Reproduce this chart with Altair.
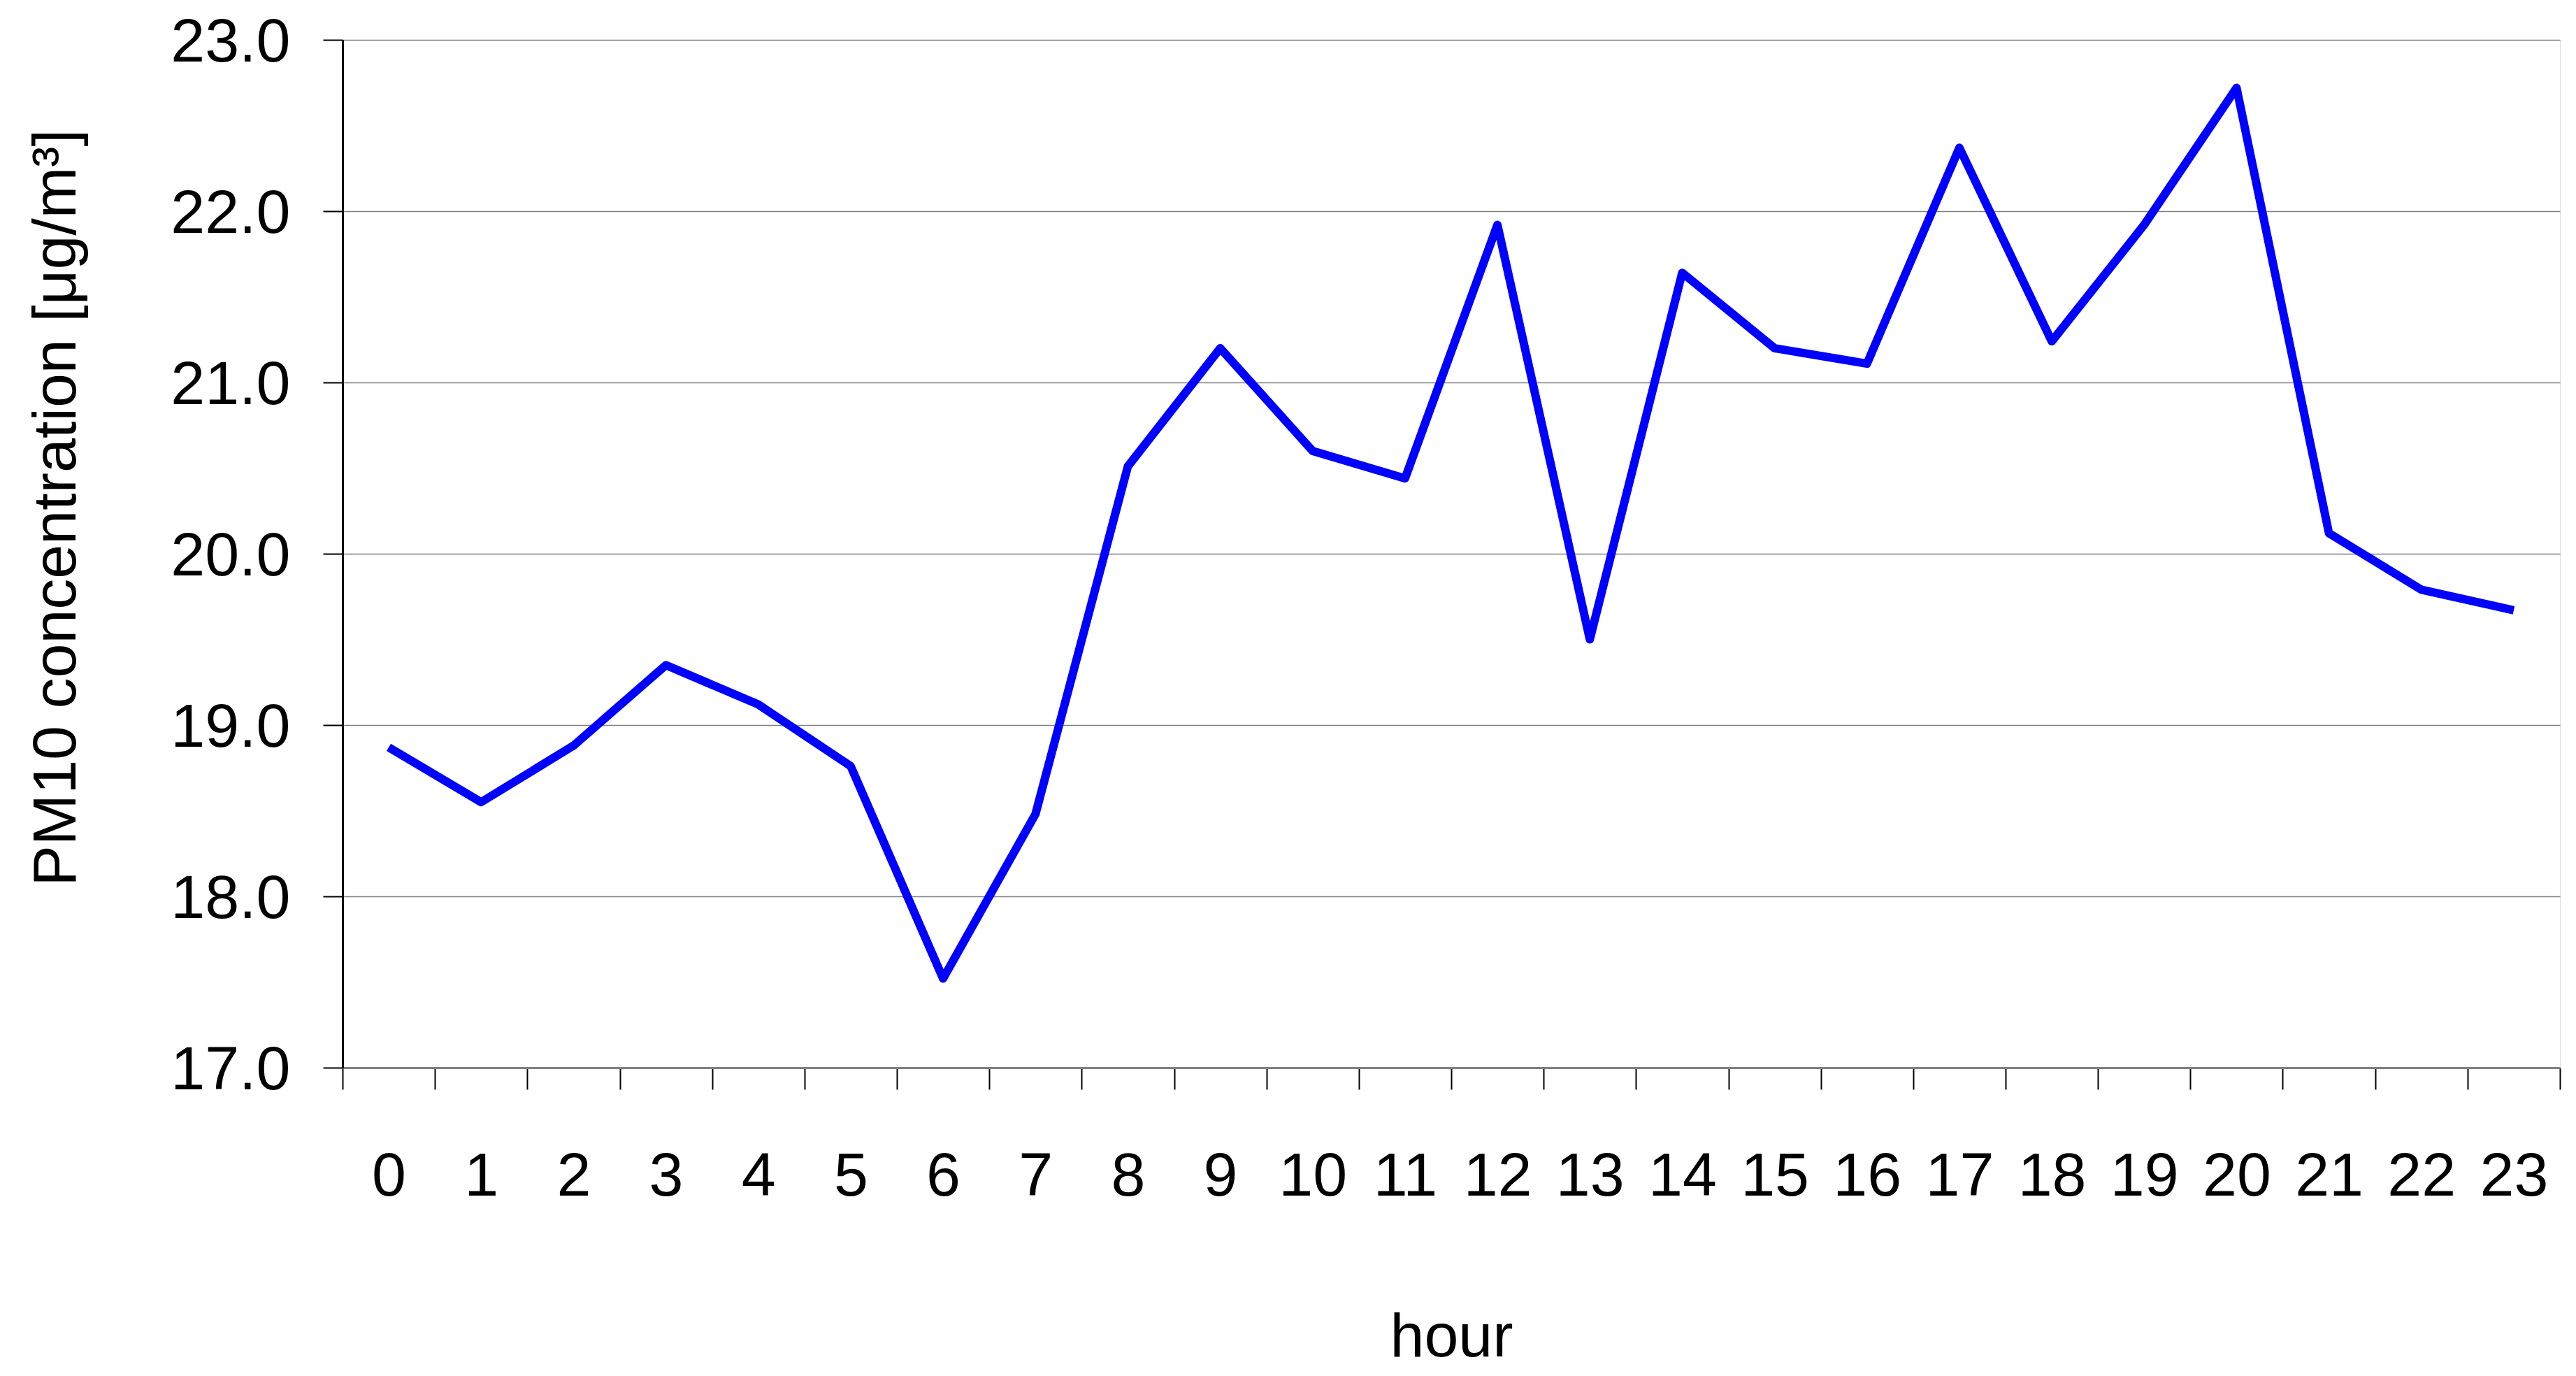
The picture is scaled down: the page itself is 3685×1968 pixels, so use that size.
import altair as alt
import pandas as pd

hours = list(range(24))
pm10 = [18.87, 18.55, 18.88, 19.35, 19.12, 18.76, 17.52, 18.48, 20.51, 21.20,
        20.60, 20.44, 21.92, 19.50, 21.64, 21.20, 21.11, 22.37, 21.24, 21.92,
        22.72, 20.12, 19.79, 19.67]
y_ticks = [17, 18, 19, 20, 21, 22, 23]

df = pd.DataFrame({"hour": hours, "pm10": pm10})

FONT = "Liberation Sans, Arial, sans-serif"
FS = 88

line = alt.Chart(df).mark_line(color="#0000FF", strokeWidth=12, strokeJoin="round").encode(
    x=alt.X(
        "hour:O",
        bandPosition=0.5,
        scale=alt.Scale(type="band", paddingInner=0, paddingOuter=0),
        axis=alt.Axis(
            title="hour",
            tickBand="extent",
            labelAngle=0,
            labelOverlap=False,
            labelLimit=0,
            domainColor="#808080",
            domainWidth=3,
            tickColor="black",
            tickWidth=2,
            tickSize=31,
            labelFont=FONT,
            labelFontSize=FS,
            labelColor="black",
            labelPadding=81,
            titleFont=FONT,
            titleFontSize=FS,
            titleFontWeight="normal",
            titleColor="black",
            titleBaseline="alphabetic",
            titleY=412,
            grid=False,
        ),
    ),
    y=alt.Y(
        "pm10:Q",
        scale=alt.Scale(domain=[17, 23], nice=False, zero=False),
        axis=alt.Axis(
            title="PM10 concentration [μg/m³]",
            values=y_ticks,
            format=".1f",
            domainColor="black",
            domainWidth=3,
            tickColor="black",
            tickWidth=2,
            tickSize=28,
            labelFont=FONT,
            labelFontSize=FS,
            labelColor="black",
            labelPadding=47,
            labelOffset=4,
            labelLimit=0,
            grid=True,
            gridColor="#808080",
            gridWidth=1.5,
            titleFont=FONT,
            titleFontSize=FS,
            titleFontWeight="normal",
            titleColor="black",
            titleBaseline="alphabetic",
            titleX=-383,
            titleY=669,
        ),
    ),
).properties(
    width=3172,
    height=1470,
    padding={"left": 482, "top": 49, "right": 10, "bottom": 432},
    autosize=alt.AutoSizeParams(type="none"),
).configure_view(
    stroke="#808080",
    strokeWidth=4,
).configure(background="white")

line.save("out.html", embed_options={"renderer": "svg", "actions": False})
